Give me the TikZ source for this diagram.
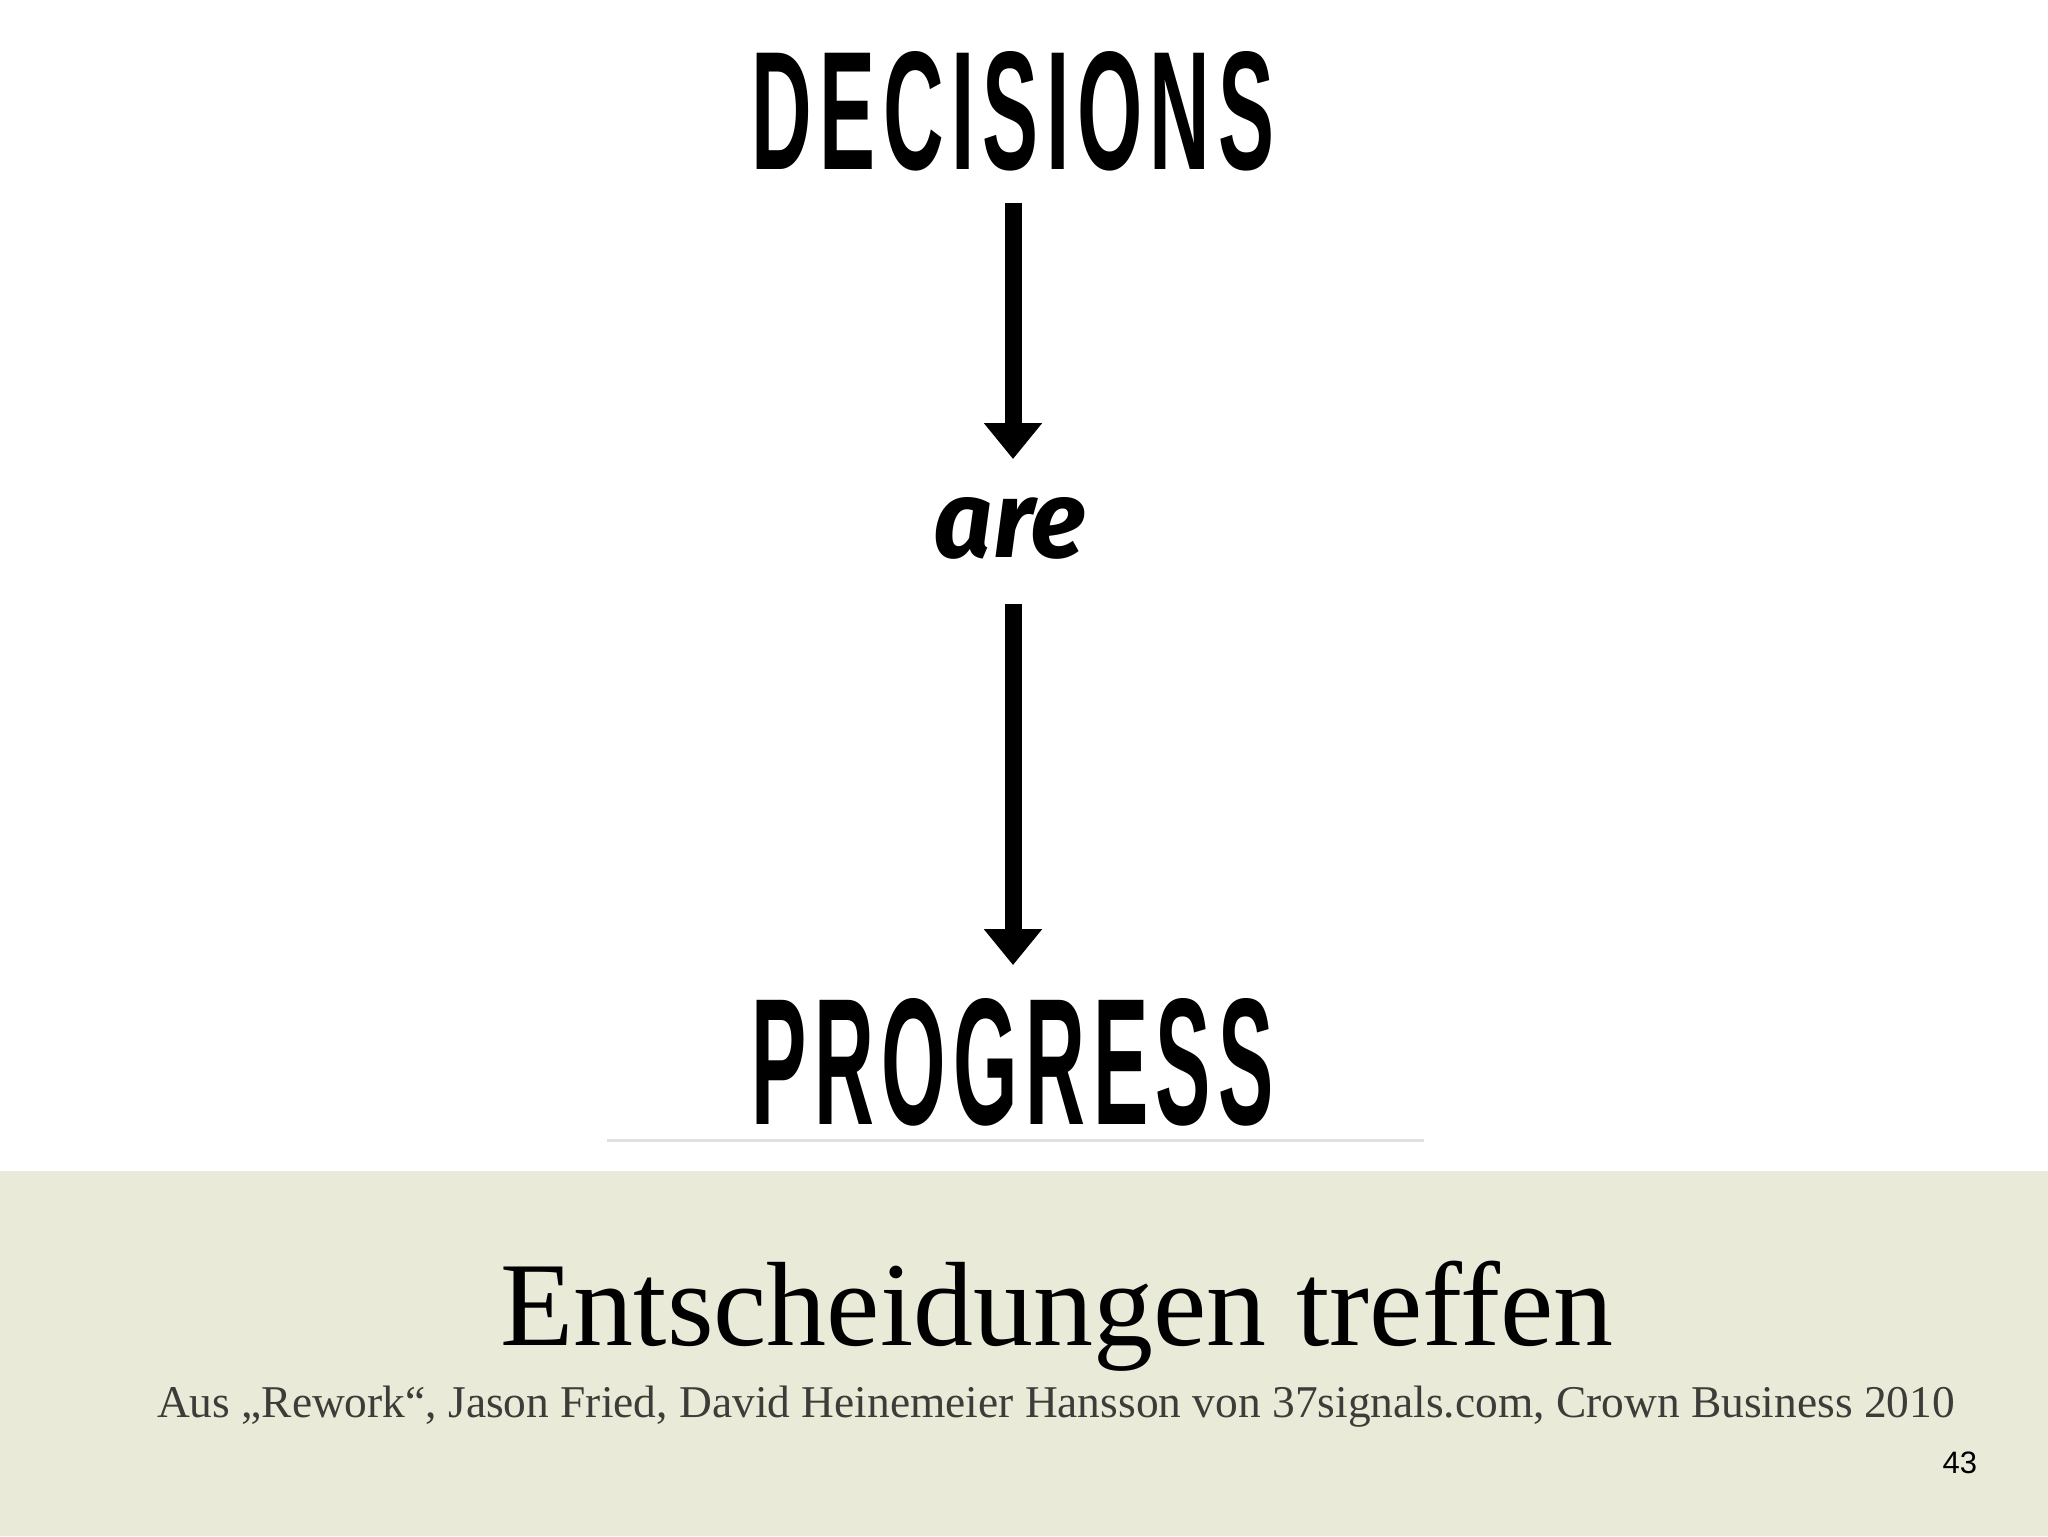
\documentclass[tikz,border=0pt]{standalone}
\usepackage{fontspec}
\usepackage{graphicx}
\usetikzlibrary{arrows.meta}
\setmainfont{Liberation Serif}
\newfontfamily\handfont{Liberation Sans}[LetterSpace=9]
\newfontfamily\arefont{Fira Sans}
\newfontfamily\pagefont{Liberation Sans}
\definecolor{band}{RGB}{233,234,216}
\definecolor{cite}{RGB}{60,60,56}
\tikzset{
  word/.style={inner sep=0pt, outer sep=0pt, text=black},
  sketcharrow/.style={line width=8.5pt, draw=black, -{Triangle[width=28pt,length=18pt]}},
}
\begin{document}
\begin{tikzpicture}[x=0.5pt,y=-0.5pt]
\useasboundingbox (0,0) rectangle (2048,1536);
\fill[white] (0,0) rectangle (2048,1536);
\fill[band] (0,1171) rectangle (2048,1536);
\draw[black!12, line width=1.5pt] (607,1140) -- (1424,1140);
% words
\node[word] (dec) at (1013,111) {\resizebox{261pt}{59pt}{\handfont\bfseries DECISIONS}};
\node[word] (are) at (1010,528) {\resizebox{76pt}{30pt}{\arefont\bfseries\itshape are}};
\node[word] (prog) at (1013,1062) {\resizebox{261pt}{63pt}{\handfont\bfseries PROGRESS}};
% arrows
\draw[sketcharrow, shorten <=16pt, shorten >=19pt] (dec.south) -- (dec.south |- are.north);
\draw[sketcharrow, shorten <=22.5pt, shorten >=16.5pt] (are.south -| prog.north) -- (prog.north);
% captions
\node[word, anchor=base] (title) at (1057,1345) {\resizebox{556.5pt}{!}{\fontsize{55}{60}\selectfont Entscheidungen treffen}};
\node[word, anchor=base, text=cite] (source) at (1056,1417) {\resizebox{899pt}{!}{\fontsize{24}{28}\selectfont Aus „Rework“, Jason Fried, David Heinemeier Hansson von 37signals.com, Crown Business 2010}};
\node[word, anchor=base east] (page) at (1977,1473) {\fontsize{15.5}{18}\selectfont\pagefont 43};
\end{tikzpicture}
\end{document}
